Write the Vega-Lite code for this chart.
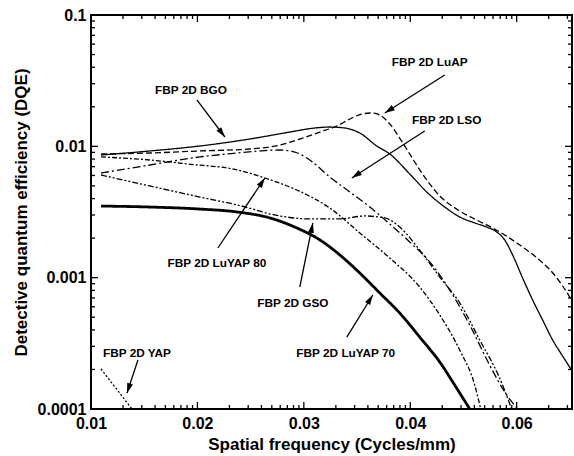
{
  "$schema": "https://vega.github.io/schema/vega-lite/v6.json",
  "width": 481,
  "height": 394,
  "autosize": "none",
  "padding": {"left": 91, "top": 15, "right": 2, "bottom": 47},
  "config": {
    "view": {"stroke": "black", "strokeWidth": 2},
    "font": "Liberation Sans",
    "axis": {"grid": false, "domain": false, "ticks": false, "labelColor": "black", "titleColor": "black", "labelFont": "Liberation Sans", "titleFont": "Liberation Sans", "labelFontWeight": "bold", "titleFontWeight": "bold", "labelFontSize": 16, "titleFontSize": 17, "labelOverlap": false, "labelBound": false, "labelFlush": false}
  },
  "datasets": {
    "curves": [
      {"series": "FBP 2D BGO", "x": 0.01094, "y": 0.00859},
      {"series": "FBP 2D BGO", "x": 0.01554, "y": 0.00922},
      {"series": "FBP 2D BGO", "x": 0.02023, "y": 0.01006},
      {"series": "FBP 2D BGO", "x": 0.02493, "y": 0.01137},
      {"series": "FBP 2D BGO", "x": 0.02869, "y": 0.01285},
      {"series": "FBP 2D BGO", "x": 0.03103, "y": 0.01379},
      {"series": "FBP 2D BGO", "x": 0.03244, "y": 0.01403},
      {"series": "FBP 2D BGO", "x": 0.03385, "y": 0.01379},
      {"series": "FBP 2D BGO", "x": 0.03526, "y": 0.01263},
      {"series": "FBP 2D BGO", "x": 0.03685, "y": 0.01006},
      {"series": "FBP 2D BGO", "x": 0.03808, "y": 0.00874},
      {"series": "FBP 2D BGO", "x": 0.03995, "y": 0.00616},
      {"series": "FBP 2D BGO", "x": 0.04155, "y": 0.00449},
      {"series": "FBP 2D BGO", "x": 0.04324, "y": 0.00345},
      {"series": "FBP 2D BGO", "x": 0.04465, "y": 0.0029},
      {"series": "FBP 2D BGO", "x": 0.04606, "y": 0.00261},
      {"series": "FBP 2D BGO", "x": 0.04718, "y": 0.00243},
      {"series": "FBP 2D BGO", "x": 0.04812, "y": 0.00223},
      {"series": "FBP 2D BGO", "x": 0.04887, "y": 0.00194},
      {"series": "FBP 2D BGO", "x": 0.04962, "y": 0.00149},
      {"series": "FBP 2D BGO", "x": 0.05056, "y": 0.000994},
      {"series": "FBP 2D BGO", "x": 0.0515, "y": 0.000676},
      {"series": "FBP 2D BGO", "x": 0.05244, "y": 0.000476},
      {"series": "FBP 2D BGO", "x": 0.05338, "y": 0.000335},
      {"series": "FBP 2D BGO", "x": 0.05432, "y": 0.000253},
      {"series": "FBP 2D BGO", "x": 0.05516, "y": 0.000198},

      {"series": "FBP 2D LuAP", "x": 0.01094, "y": 0.00874},
      {"series": "FBP 2D LuAP", "x": 0.01554, "y": 0.0089},
      {"series": "FBP 2D LuAP", "x": 0.02023, "y": 0.00922},
      {"series": "FBP 2D LuAP", "x": 0.02493, "y": 0.00954},
      {"series": "FBP 2D LuAP", "x": 0.02775, "y": 0.01023},
      {"series": "FBP 2D LuAP", "x": 0.02962, "y": 0.01137},
      {"series": "FBP 2D LuAP", "x": 0.0315, "y": 0.01285},
      {"series": "FBP 2D LuAP", "x": 0.0331, "y": 0.01428},
      {"series": "FBP 2D LuAP", "x": 0.03432, "y": 0.01615},
      {"series": "FBP 2D LuAP", "x": 0.03545, "y": 0.01763},
      {"series": "FBP 2D LuAP", "x": 0.03638, "y": 0.01794},
      {"series": "FBP 2D LuAP", "x": 0.03714, "y": 0.01732},
      {"series": "FBP 2D LuAP", "x": 0.03808, "y": 0.01479},
      {"series": "FBP 2D LuAP", "x": 0.0393, "y": 0.0106},
      {"series": "FBP 2D LuAP", "x": 0.04042, "y": 0.0076},
      {"series": "FBP 2D LuAP", "x": 0.04155, "y": 0.00554},
      {"series": "FBP 2D LuAP", "x": 0.04277, "y": 0.00419},
      {"series": "FBP 2D LuAP", "x": 0.04465, "y": 0.00322},
      {"series": "FBP 2D LuAP", "x": 0.04624, "y": 0.00275},
      {"series": "FBP 2D LuAP", "x": 0.04775, "y": 0.00239},
      {"series": "FBP 2D LuAP", "x": 0.04934, "y": 0.002},
      {"series": "FBP 2D LuAP", "x": 0.05056, "y": 0.00171},
      {"series": "FBP 2D LuAP", "x": 0.05216, "y": 0.00136},
      {"series": "FBP 2D LuAP", "x": 0.05338, "y": 0.00109},
      {"series": "FBP 2D LuAP", "x": 0.05432, "y": 0.000864},
      {"series": "FBP 2D LuAP", "x": 0.05516, "y": 0.000676},

      {"series": "FBP 2D LSO", "x": 0.01094, "y": 0.00626},
      {"series": "FBP 2D LSO", "x": 0.01554, "y": 0.00721},
      {"series": "FBP 2D LSO", "x": 0.02023, "y": 0.0083},
      {"series": "FBP 2D LSO", "x": 0.0238, "y": 0.0089},
      {"series": "FBP 2D LSO", "x": 0.02587, "y": 0.00922},
      {"series": "FBP 2D LSO", "x": 0.02775, "y": 0.00938},
      {"series": "FBP 2D LSO", "x": 0.02915, "y": 0.00905},
      {"series": "FBP 2D LSO", "x": 0.03056, "y": 0.00787},
      {"series": "FBP 2D LSO", "x": 0.03244, "y": 0.00584},
      {"series": "FBP 2D LSO", "x": 0.03432, "y": 0.00449},
      {"series": "FBP 2D LSO", "x": 0.0362, "y": 0.00345},
      {"series": "FBP 2D LSO", "x": 0.03808, "y": 0.00256},
      {"series": "FBP 2D LSO", "x": 0.03995, "y": 0.00187},
      {"series": "FBP 2D LSO", "x": 0.04183, "y": 0.00132},
      {"series": "FBP 2D LSO", "x": 0.04371, "y": 0.000805},
      {"series": "FBP 2D LSO", "x": 0.04559, "y": 0.000436},
      {"series": "FBP 2D LSO", "x": 0.04746, "y": 0.000216},
      {"series": "FBP 2D LSO", "x": 0.04887, "y": 0.000135},
      {"series": "FBP 2D LSO", "x": 0.05009, "y": 0.0001},

      {"series": "FBP 2D LuYAP 80", "x": 0.01094, "y": 0.0083},
      {"series": "FBP 2D LuYAP 80", "x": 0.01554, "y": 0.00787},
      {"series": "FBP 2D LuYAP 80", "x": 0.01911, "y": 0.00733},
      {"series": "FBP 2D LuYAP 80", "x": 0.0238, "y": 0.0066},
      {"series": "FBP 2D LuYAP 80", "x": 0.02634, "y": 0.00574},
      {"series": "FBP 2D LuYAP 80", "x": 0.02934, "y": 0.00465},
      {"series": "FBP 2D LuYAP 80", "x": 0.03244, "y": 0.00339},
      {"series": "FBP 2D LuYAP 80", "x": 0.03526, "y": 0.00219},
      {"series": "FBP 2D LuYAP 80", "x": 0.03808, "y": 0.00141},
      {"series": "FBP 2D LuYAP 80", "x": 0.04089, "y": 0.000849},
      {"series": "FBP 2D LuYAP 80", "x": 0.04277, "y": 0.00052},
      {"series": "FBP 2D LuYAP 80", "x": 0.04465, "y": 0.000281},
      {"series": "FBP 2D LuYAP 80", "x": 0.04606, "y": 0.000152},
      {"series": "FBP 2D LuYAP 80", "x": 0.04662, "y": 0.0001},

      {"series": "FBP 2D GSO", "x": 0.01094, "y": 0.00605},
      {"series": "FBP 2D GSO", "x": 0.01554, "y": 0.00499},
      {"series": "FBP 2D GSO", "x": 0.02023, "y": 0.00411},
      {"series": "FBP 2D GSO", "x": 0.0238, "y": 0.00357},
      {"series": "FBP 2D GSO", "x": 0.02775, "y": 0.00295},
      {"series": "FBP 2D GSO", "x": 0.03056, "y": 0.0028},
      {"series": "FBP 2D GSO", "x": 0.03338, "y": 0.0028},
      {"series": "FBP 2D GSO", "x": 0.03573, "y": 0.00295},
      {"series": "FBP 2D GSO", "x": 0.03761, "y": 0.00285},
      {"series": "FBP 2D GSO", "x": 0.03901, "y": 0.00243},
      {"series": "FBP 2D GSO", "x": 0.04089, "y": 0.00162},
      {"series": "FBP 2D GSO", "x": 0.04277, "y": 0.00101},
      {"series": "FBP 2D GSO", "x": 0.04465, "y": 0.000642},
      {"series": "FBP 2D GSO", "x": 0.04653, "y": 0.000335},
      {"series": "FBP 2D GSO", "x": 0.0484, "y": 0.000172},
      {"series": "FBP 2D GSO", "x": 0.04953, "y": 0.0001},

      {"series": "FBP 2D LuYAP 70", "x": 0.01094, "y": 0.00351},
      {"series": "FBP 2D LuYAP 70", "x": 0.01554, "y": 0.00345},
      {"series": "FBP 2D LuYAP 70", "x": 0.02023, "y": 0.00333},
      {"series": "FBP 2D LuYAP 70", "x": 0.0238, "y": 0.00316},
      {"series": "FBP 2D LuYAP 70", "x": 0.02681, "y": 0.00285},
      {"series": "FBP 2D LuYAP 70", "x": 0.02934, "y": 0.00239},
      {"series": "FBP 2D LuYAP 70", "x": 0.0315, "y": 0.00194},
      {"series": "FBP 2D LuYAP 70", "x": 0.03338, "y": 0.00149},
      {"series": "FBP 2D LuYAP 70", "x": 0.03498, "y": 0.00114},
      {"series": "FBP 2D LuYAP 70", "x": 0.03714, "y": 0.000764},
      {"series": "FBP 2D LuYAP 70", "x": 0.03901, "y": 0.000538},
      {"series": "FBP 2D LuYAP 70", "x": 0.04089, "y": 0.000353},
      {"series": "FBP 2D LuYAP 70", "x": 0.04277, "y": 0.000228},
      {"series": "FBP 2D LuYAP 70", "x": 0.04418, "y": 0.000152},
      {"series": "FBP 2D LuYAP 70", "x": 0.04559, "y": 0.0001},

      {"series": "FBP 2D YAP", "x": 0.01094, "y": 0.000202},
      {"series": "FBP 2D YAP", "x": 0.01385, "y": 0.0001}
    ],
    "labels": [
      {"label": "FBP 2D BGO", "x": 0.01939, "y": 0.02685},
      {"label": "FBP 2D LuAP", "x": 0.04183, "y": 0.04386},
      {"label": "FBP 2D LSO", "x": 0.04343, "y": 0.01587},
      {"label": "FBP 2D LuYAP 80", "x": 0.02183, "y": 0.001293},
      {"label": "FBP 2D GSO", "x": 0.02897, "y": 0.000642},
      {"label": "FBP 2D LuYAP 70", "x": 0.03394, "y": 0.000267},
      {"label": "FBP 2D YAP", "x": 0.01432, "y": 0.000267}
    ],
    "arrows": [
      {"label": "FBP 2D BGO", "sx": 0.01995, "sy": 0.02254, "tx": 0.02258, "ty": 0.01178},
      {"label": "FBP 2D LuAP", "sx": 0.04324, "sy": 0.03492, "tx": 0.03761, "ty": 0.01794},
      {"label": "FBP 2D LSO", "sx": 0.04136, "sy": 0.01308, "tx": 0.03451, "ty": 0.00574},
      {"label": "FBP 2D LuYAP 80", "sx": 0.02192, "sy": 0.001682, "tx": 0.02634, "ty": 0.00574},
      {"label": "FBP 2D GSO", "sx": 0.02962, "sy": 0.000849, "tx": 0.03085, "ty": 0.00261},
      {"label": "FBP 2D LuYAP 70", "sx": 0.03404, "sy": 0.000353, "tx": 0.03648, "ty": 0.000738},
      {"label": "FBP 2D YAP", "sx": 0.01441, "sy": 0.000236, "tx": 0.01338, "ty": 0.000132}
    ],
    "xticks": [
      {"v": 0.01, "kind": "major"}, {"v": 0.01301, "kind": "minor"}, {"v": 0.01477, "kind": "minor"}, {"v": 0.01602, "kind": "minor"}, {"v": 0.01699, "kind": "minor"}, {"v": 0.01778, "kind": "minor"}, {"v": 0.01845, "kind": "minor"}, {"v": 0.01903, "kind": "minor"}, {"v": 0.01954, "kind": "minor"},
      {"v": 0.02, "kind": "major"}, {"v": 0.02301, "kind": "minor"}, {"v": 0.02477, "kind": "minor"}, {"v": 0.02602, "kind": "minor"}, {"v": 0.02699, "kind": "minor"}, {"v": 0.02778, "kind": "minor"}, {"v": 0.02845, "kind": "minor"}, {"v": 0.02903, "kind": "minor"}, {"v": 0.02954, "kind": "minor"},
      {"v": 0.03, "kind": "major"}, {"v": 0.03301, "kind": "minor"}, {"v": 0.03477, "kind": "minor"}, {"v": 0.03602, "kind": "minor"}, {"v": 0.03699, "kind": "minor"}, {"v": 0.03778, "kind": "minor"}, {"v": 0.03845, "kind": "minor"}, {"v": 0.03903, "kind": "minor"}, {"v": 0.03954, "kind": "minor"},
      {"v": 0.04, "kind": "major"}, {"v": 0.04301, "kind": "minor"}, {"v": 0.04477, "kind": "minor"}, {"v": 0.04602, "kind": "minor"}, {"v": 0.04699, "kind": "minor"}, {"v": 0.04778, "kind": "minor"}, {"v": 0.04845, "kind": "minor"}, {"v": 0.04903, "kind": "minor"}, {"v": 0.04954, "kind": "minor"},
      {"v": 0.05, "kind": "major"}, {"v": 0.05301, "kind": "minor"}, {"v": 0.05477, "kind": "minor"}
    ],
    "yticks": [
      {"v": 0.0001, "kind": "major"}, {"v": 0.0002, "kind": "minor"}, {"v": 0.0003, "kind": "minor"}, {"v": 0.0004, "kind": "minor"}, {"v": 0.0005, "kind": "minor"}, {"v": 0.0006, "kind": "minor"}, {"v": 0.0007, "kind": "minor"}, {"v": 0.0008, "kind": "minor"}, {"v": 0.0009, "kind": "minor"},
      {"v": 0.001, "kind": "major"}, {"v": 0.002, "kind": "minor"}, {"v": 0.003, "kind": "minor"}, {"v": 0.004, "kind": "minor"}, {"v": 0.005, "kind": "minor"}, {"v": 0.006, "kind": "minor"}, {"v": 0.007, "kind": "minor"}, {"v": 0.008, "kind": "minor"}, {"v": 0.009, "kind": "minor"},
      {"v": 0.01, "kind": "major"}, {"v": 0.02, "kind": "minor"}, {"v": 0.03, "kind": "minor"}, {"v": 0.04, "kind": "minor"}, {"v": 0.05, "kind": "minor"}, {"v": 0.06, "kind": "minor"}, {"v": 0.07, "kind": "minor"}, {"v": 0.08, "kind": "minor"}, {"v": 0.09, "kind": "minor"},
      {"v": 0.1, "kind": "major"}
    ]
  },
  "resolve": {"axis": {"x": "independent", "y": "independent"}},
  "layer": [
    {
      "data": {"name": "curves"},
      "mark": {"type": "line", "interpolate": "monotone", "color": "black"},
      "encoding": {
        "x": {
          "field": "x", "type": "quantitative",
          "scale": {"domain": [0.01, 0.0552], "nice": false, "zero": false},
          "axis": {
            "orient": "bottom",
            "title": "Spatial frequency (Cycles/mm)",
            "titlePadding": 5,
            "labelPadding": 6,
            "values": [0.01, 0.02, 0.03, 0.04, 0.05],
            "labelExpr": "datum.value == 0.05 ? '0.06' : format(datum.value, '.2f')"
          }
        },
        "y": {
          "field": "y", "type": "quantitative",
          "scale": {"type": "log", "domain": [0.0001, 0.1], "nice": false},
          "axis": {
            "orient": "left",
            "title": "Detective quantum efficiency (DQE)",
            "titlePadding": 7,
            "labelPadding": 5,
            "values": [0.0001, 0.001, 0.01, 0.1],
            "labelExpr": "datum.value == 0.1 ? '0.1' : datum.value == 0.01 ? '0.01' : datum.value == 0.001 ? '0.001' : '0.0001'"
          }
        },
        "strokeDash": {
          "field": "series", "type": "nominal", "legend": null,
          "scale": {
            "domain": ["FBP 2D BGO", "FBP 2D LuAP", "FBP 2D LSO", "FBP 2D LuYAP 80", "FBP 2D GSO", "FBP 2D LuYAP 70", "FBP 2D YAP"],
            "range": [[1, 0], [6, 3], [8, 3, 2, 3], [5, 2, 2, 2], [6, 2, 2, 2, 2, 2], [1, 0], [2, 2]]
          }
        },
        "strokeWidth": {"condition": {"test": "datum.series == 'FBP 2D LuYAP 70'", "value": 2.8}, "value": 1.3}
      }
    },
    {
      "data": {"name": "arrows"},
      "mark": {"type": "rule", "color": "black", "strokeWidth": 1.3},
      "encoding": {
        "x": {"field": "sx", "type": "quantitative", "scale": {"domain": [0.01, 0.0552], "nice": false, "zero": false}, "axis": null},
        "y": {"field": "sy", "type": "quantitative", "scale": {"type": "log", "domain": [0.0001, 0.1], "nice": false}, "axis": null},
        "x2": {"field": "tx"},
        "y2": {"field": "ty"}
      }
    },
    {
      "data": {"name": "arrows"},
      "mark": {
        "type": "point", "shape": "M0,0L-0.3,1L0.3,1Z", "filled": true, "color": "black", "opacity": 1, "size": 400, "strokeWidth": 0,
        "angle": {"expr": "atan2(scale('x', datum.tx) - scale('x', datum.sx), scale('y', datum.sy) - scale('y', datum.ty)) * 180 / PI"}
      },
      "encoding": {
        "x": {"field": "tx", "type": "quantitative", "scale": {"domain": [0.01, 0.0552], "nice": false, "zero": false}, "axis": null},
        "y": {"field": "ty", "type": "quantitative", "scale": {"type": "log", "domain": [0.0001, 0.1], "nice": false}, "axis": null}
      }
    },
    {
      "data": {"name": "labels"},
      "mark": {"type": "text", "font": "Liberation Sans", "fontWeight": "bold", "fontSize": 11.8, "color": "black", "align": "center", "baseline": "middle"},
      "encoding": {
        "x": {"field": "x", "type": "quantitative", "scale": {"domain": [0.01, 0.0552], "nice": false, "zero": false}, "axis": null},
        "y": {"field": "y", "type": "quantitative", "scale": {"type": "log", "domain": [0.0001, 0.1], "nice": false}, "axis": null},
        "text": {"field": "label"}
      }
    },
    {
      "data": {"name": "xticks"},
      "mark": {"type": "tick", "orient": "vertical", "color": "black", "opacity": 1, "thickness": 1.3, "clip": true},
      "encoding": {
        "x": {"field": "v", "type": "quantitative", "scale": {"domain": [0.01, 0.0552], "nice": false, "zero": false}, "axis": null},
        "y": {"datum": 0.0001, "type": "quantitative", "scale": {"type": "log", "domain": [0.0001, 0.1], "nice": false}, "axis": null},
        "size": {"condition": {"test": "datum.kind == 'major'", "value": 14}, "value": 8}
      }
    },
    {
      "data": {"name": "xticks"},
      "mark": {"type": "tick", "orient": "vertical", "color": "black", "opacity": 1, "thickness": 1.3, "clip": true},
      "encoding": {
        "x": {"field": "v", "type": "quantitative", "scale": {"domain": [0.01, 0.0552], "nice": false, "zero": false}, "axis": null},
        "y": {"datum": 0.1, "type": "quantitative", "scale": {"type": "log", "domain": [0.0001, 0.1], "nice": false}, "axis": null},
        "size": {"condition": {"test": "datum.kind == 'major'", "value": 14}, "value": 8}
      }
    },
    {
      "data": {"name": "yticks"},
      "mark": {"type": "tick", "orient": "horizontal", "color": "black", "opacity": 1, "thickness": 1.3, "clip": true},
      "encoding": {
        "x": {"datum": 0.01, "type": "quantitative", "scale": {"domain": [0.01, 0.0552], "nice": false, "zero": false}, "axis": null},
        "y": {"field": "v", "type": "quantitative", "scale": {"type": "log", "domain": [0.0001, 0.1], "nice": false}, "axis": null},
        "size": {"condition": {"test": "datum.kind == 'major'", "value": 14}, "value": 8}
      }
    },
    {
      "data": {"name": "yticks"},
      "mark": {"type": "tick", "orient": "horizontal", "color": "black", "opacity": 1, "thickness": 1.3, "clip": true},
      "encoding": {
        "x": {"datum": 0.0552, "type": "quantitative", "scale": {"domain": [0.01, 0.0552], "nice": false, "zero": false}, "axis": null},
        "y": {"field": "v", "type": "quantitative", "scale": {"type": "log", "domain": [0.0001, 0.1], "nice": false}, "axis": null},
        "size": {"condition": {"test": "datum.kind == 'major'", "value": 14}, "value": 8}
      }
    }
  ]
}
